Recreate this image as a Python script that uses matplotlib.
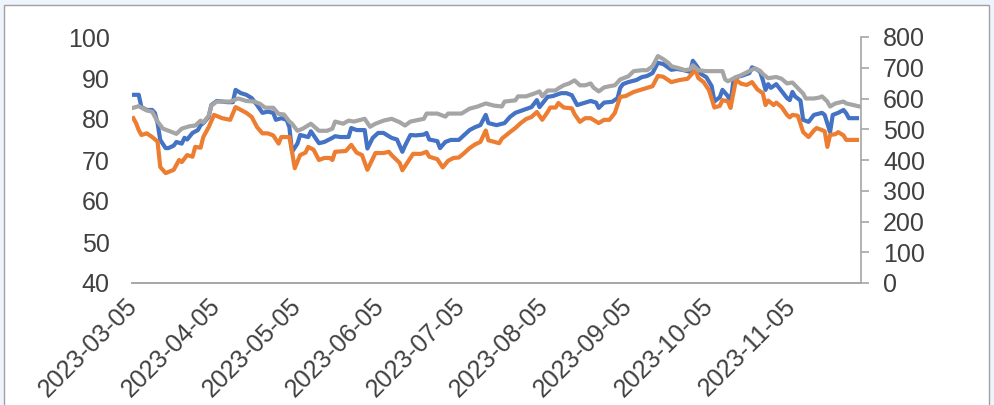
import pandas as pd
import matplotlib
matplotlib.use("Agg")
import matplotlib.pyplot as plt
from matplotlib.patches import Rectangle

# start date of the series, day offsets are counted from here
start_date = "2023-03-05"

# blue series (left axis)
blue_days = [0, 2, 3, 5, 7, 8, 9, 10, 12, 13, 15, 16, 18, 19, 20, 22, 24, 25, 26, 28,
             29, 31, 35, 37, 38, 40, 42, 44, 46, 48, 50, 52, 53, 55, 57, 58, 59, 61, 62, 65,
             66, 69, 71, 74, 75, 77, 80, 81, 83, 86, 87, 89, 91, 93, 96, 98, 100, 101, 103, 105,
             108, 109, 110, 113, 114, 116, 118, 121, 123, 125, 127, 129, 131, 132, 135, 138, 140, 142, 145, 148,
             150, 151, 154, 156, 159, 161, 163, 165, 168, 170, 172, 173, 175, 178, 180, 181, 182, 184, 187, 189,
             191, 193, 195, 197, 200, 202, 204, 207, 208, 210, 211, 213, 215, 216, 218, 219, 221, 222, 223, 225,
             226, 229, 230, 232, 233, 234, 235, 236, 237, 239, 241, 243, 244, 245, 246, 248, 249, 251, 253, 256,
             257, 259, 260, 262, 264, 265, 266, 269]
blue_vals = [85.9, 85.9, 82.9, 82.2, 82.2, 81.5, 79.0, 74.9, 72.9, 72.9, 73.5, 74.4, 74.0, 75.4, 75.0, 76.6, 77.3, 78.5, 79.0, 80.5,
             83.4, 84.4, 84.1, 84.1, 87.1, 86.3, 85.9, 85.1, 83.4, 81.5, 81.8, 81.5, 79.8, 80.2, 79.8, 78.0, 72.0, 74.0, 76.1, 75.6,
             77.0, 74.1, 74.4, 75.4, 75.8, 75.6, 75.6, 77.8, 77.3, 77.3, 72.8, 75.4, 76.6, 76.6, 75.4, 75.0, 72.0, 73.5, 76.1, 76.0,
             76.2, 76.6, 75.0, 74.6, 72.9, 74.4, 74.9, 74.9, 76.1, 77.3, 78.0, 78.5, 81.0, 79.0, 78.5, 79.0, 80.5, 81.5, 82.2, 82.9,
             84.6, 82.9, 85.4, 85.6, 86.3, 86.3, 85.8, 83.4, 84.0, 84.4, 84.0, 82.7, 84.0, 84.2, 85.1, 87.6, 88.5, 89.0, 89.5, 90.2,
             90.5, 91.2, 93.7, 93.4, 92.0, 92.2, 92.0, 91.5, 94.2, 92.4, 91.0, 90.2, 88.0, 84.3, 85.3, 87.1, 85.6, 84.0, 89.0, 90.4,
             90.5, 91.2, 92.6, 92.0, 91.5, 89.5, 87.1, 88.5, 87.6, 88.5, 86.8, 85.1, 84.6, 86.6, 85.5, 84.5, 79.8, 79.3, 81.0, 81.5,
             81.0, 76.8, 81.0, 81.5, 82.2, 81.4, 80.2, 80.2]

# orange series (left axis)
orange_days = [0, 1, 2, 3, 5, 7, 9, 10, 12, 15, 16, 17, 18, 20, 22, 23, 25, 26, 28, 30,
               33, 36, 38, 40, 42, 44, 46, 48, 50, 52, 54, 55, 58, 59, 60, 62, 64, 65, 67, 69,
               71, 73, 74, 75, 79, 81, 83, 85, 87, 90, 93, 95, 96, 99, 100, 102, 104, 107, 109, 110,
               113, 115, 117, 119, 121, 123, 125, 127, 129, 131, 132, 136, 137, 140, 142, 144, 146, 148, 150, 152,
               154, 155, 157, 158, 160, 163, 164, 166, 168, 170, 173, 175, 177, 179, 181, 183, 186, 188, 191, 193,
               195, 197, 200, 203, 206, 209, 210, 212, 214, 216, 218, 219, 221, 222, 224, 226, 228, 230, 232, 234,
               235, 236, 238, 239, 241, 243, 244, 245, 247, 249, 251, 253, 254, 256, 257, 258, 259, 261, 262, 264,
               265, 269]
orange_vals = [80.2, 79.0, 77.3, 76.1, 76.5, 75.6, 74.5, 68.3, 66.8, 67.6, 68.8, 70.0, 69.5, 71.2, 70.8, 73.2, 73.0, 75.6, 78.0, 81.0,
               80.2, 79.8, 82.9, 82.2, 81.5, 80.5, 78.0, 76.5, 76.5, 76.0, 74.0, 75.6, 75.6, 72.0, 68.0, 71.2, 71.8, 73.2, 72.5, 70.0,
               70.5, 70.5, 70.0, 72.0, 72.2, 73.7, 71.8, 71.2, 67.6, 71.7, 71.7, 72.0, 71.2, 69.3, 67.5, 69.5, 71.5, 71.5, 72.0, 70.8,
               70.2, 68.2, 69.8, 70.5, 70.6, 71.7, 72.9, 73.8, 74.4, 77.2, 74.8, 74.1, 75.2, 76.8, 77.8, 79.0, 80.0, 80.5, 81.7, 79.8,
               81.7, 82.8, 82.8, 83.9, 82.8, 82.6, 81.2, 79.3, 80.2, 80.2, 79.0, 79.8, 79.8, 81.5, 85.4, 85.6, 86.6, 87.0, 87.6, 88.0,
               90.5, 90.3, 89.0, 89.5, 89.8, 92.0, 90.0, 89.0, 87.0, 82.8, 83.2, 84.6, 84.3, 82.7, 89.5, 88.6, 88.3, 89.0, 87.2, 86.3,
               83.4, 84.5, 83.4, 84.0, 82.9, 81.0, 80.4, 81.0, 80.8, 76.8, 75.6, 77.2, 77.8, 77.3, 77.0, 73.2, 76.1, 76.3, 76.8, 76.0,
               74.9, 74.9]

# gray series (right axis)
gray_days = [0, 2, 5, 7, 9, 11, 14, 16, 18, 21, 23, 25, 26, 28, 29, 31, 36, 39, 42, 45,
             47, 49, 52, 54, 56, 58, 59, 61, 63, 66, 69, 72, 74, 75, 78, 80, 82, 86, 88, 90,
             93, 96, 99, 101, 103, 108, 109, 113, 116, 117, 122, 125, 128, 131, 134, 137, 138, 142, 143, 146,
             149, 151, 152, 154, 157, 158, 160, 162, 164, 166, 168, 170, 171, 173, 175, 177, 179, 181, 184, 186,
             189, 191, 193, 195, 197, 199, 200, 203, 205, 207, 208, 210, 213, 219, 220, 221, 222, 224, 225, 228,
             231, 233, 234, 236, 239, 241, 243, 245, 246, 249, 250, 253, 255, 256, 258, 259, 261, 264, 265, 267,
             270]
gray_vals = [570, 575, 561, 557, 525, 502, 492, 485, 502, 510, 512, 528, 522, 544, 577, 590, 590, 600, 592, 590,
             583, 570, 570, 550, 548, 525, 518, 495, 502, 518, 495, 495, 502, 525, 518, 528, 525, 534, 508, 518,
             528, 534, 523, 512, 525, 534, 551, 551, 541, 551, 551, 567, 574, 584, 577, 574, 590, 594, 607, 607,
             616, 623, 607, 626, 626, 633, 643, 649, 659, 643, 643, 649, 636, 623, 636, 640, 643, 662, 672, 689,
             692, 692, 705, 738, 728, 715, 705, 698, 692, 695, 708, 692, 689, 689, 662, 656, 660, 670, 672, 685,
             698, 690, 680, 666, 670, 664, 649, 652, 643, 616, 600, 600, 603, 607, 590, 574, 584, 590, 584, 580,
             574]

tick_labels = ["2023-03-05", "2023-04-05", "2023-05-05", "2023-06-05", "2023-07-05",
               "2023-08-05", "2023-09-05", "2023-10-05", "2023-11-05"]

plt.rcParams['font.family'] = ['Liberation Sans', 'DejaVu Sans']
text_color = '#404040'
axis_color = '#A6A6A6'

t0 = pd.Timestamp(start_date)
def to_dates(days):
    return t0 + pd.to_timedelta(days, unit='D')

fig = plt.figure(figsize=(9.94, 4.05), dpi=100, facecolor='#EEF4FB')
# white chart area with thin gray border (behind the axes)
frame = Rectangle((4 / 994, -0.01), 985 / 994, 1 - 5 / 405 + 0.01,
                  transform=fig.transFigure, facecolor='white',
                  edgecolor='#A0A0A0', linewidth=1, zorder=-10)
fig.patches.append(frame)

ax = fig.add_axes([132 / 994, 1 - 283 / 405, 729 / 994, 246 / 405])
ax.set_facecolor('none')
ax2 = ax.twinx()
ax2.set_facecolor('none')

ax.plot(to_dates(blue_days), blue_vals, color='#4472C4', linewidth=3)
ax.plot(to_dates(orange_days), orange_vals, color='#ED7D31', linewidth=3)
ax2.plot(to_dates(gray_days), gray_vals, color='#A5A5A5', linewidth=3)

ax.set_ylim(40, 100)
ax.set_yticks(range(40, 101, 10))
ax2.set_ylim(0, 800)
ax2.set_yticks(range(0, 801, 100))
ax.set_xlim(t0 - pd.Timedelta(days=0.5), t0 + pd.Timedelta(days=270.5))

ax.set_xticks(pd.to_datetime(tick_labels))
ax.set_xticklabels(tick_labels, rotation=45, ha='right', va='center',
                   rotation_mode='anchor', fontsize=18, color=text_color)
ax.tick_params(axis='x', length=0, pad=14)
ax.tick_params(axis='y', length=0, pad=16, labelsize=18, labelcolor=text_color)
ax2.tick_params(axis='y', length=6, width=1.2, color=axis_color, pad=10,
                labelsize=18, labelcolor=text_color)

for a in (ax, ax2):
    a.spines['top'].set_visible(False)
    a.spines['left'].set_visible(False)
    a.spines['right'].set_visible(False)
    a.spines['bottom'].set_color(axis_color)
    a.spines['bottom'].set_linewidth(1.2)
ax2.spines['right'].set_visible(True)
ax2.spines['right'].set_color(axis_color)
ax2.spines['right'].set_linewidth(1.2)

plt.savefig('out.png', dpi=100, facecolor=fig.get_facecolor())
plt.close()
